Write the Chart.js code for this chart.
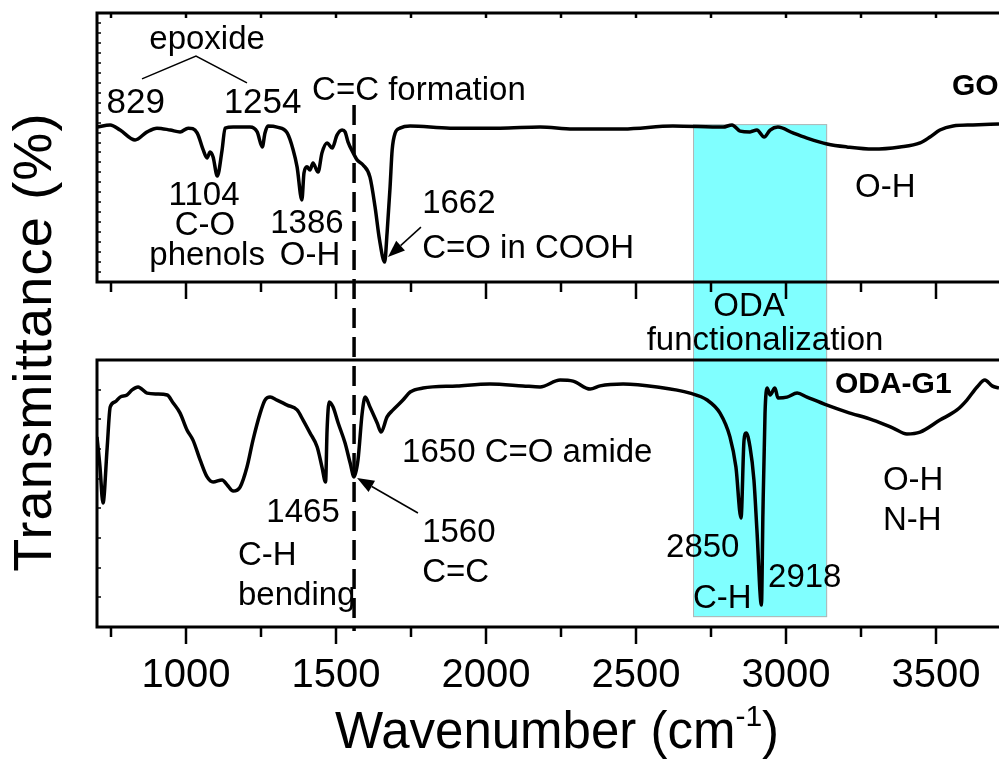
<!DOCTYPE html>
<html>
<head>
<meta charset="utf-8">
<script src="https://cdn.jsdelivr.net/npm/chart.js@4/dist/chart.umd.min.js"></script>
<style>
  html, body { margin: 0; padding: 0; background: #fff; overflow: hidden; }
  #wrap { position: relative; width: 999px; height: 761px; }
</style>
</head>
<body>
<div id="wrap"><canvas id="ftir"></canvas></div>
<script>
// FTIR spectra: graphene oxide (GO) and octadecylamine-functionalized graphene (ODA-G1)
const wavenumberGO = [703,747,780,830,870,903,947,980,1007,1037,1057,1070,1080,1090,1104,1120,1130,1157,1213,1237,1254,1263,1273,1303,1337,1357,1370,1386,1393,1403,1413,1423,1440,1453,1470,1487,1503,1520,1530,1540,1557,1570,1590,1613,1630,1645,1662,1670,1680,1687,1697,1713,1747,1880,2047,2180,2290,2457,2623,2790,2820,2847,2880,2903,2927,2947,2973,3023,3070,3137,3203,3290,3380,3447,3480,3513,3557,3623,3710];
const transmittanceGO = [57.6,58.4,56.5,52.8,55.8,57.2,56.5,55.8,57.2,55.4,49.1,46.1,48.3,46.5,39.4,49.1,57.2,57.6,57.6,55.8,50.2,55.4,58.0,57.6,55.4,49.1,42.8,30.5,40.5,42.8,41.6,44.2,40.9,48.0,51.7,49.8,54.6,56.5,55.8,52.0,48.0,45.4,43.5,39.0,27.9,15.6,7.4,18.2,35.3,49.1,55.4,57.2,58.0,57.2,57.2,57.6,56.9,56.9,58.0,57.6,58.4,56.1,55.8,56.5,53.9,56.5,57.6,55.4,53.5,51.3,50.2,49.4,50.2,51.7,53.9,56.5,58.0,58.4,58.7];

const wavenumberODA = [703,713,723,737,747,763,780,803,820,840,870,903,937,957,980,1003,1023,1047,1070,1090,1120,1137,1157,1180,1203,1223,1247,1263,1280,1303,1337,1370,1390,1413,1437,1453,1465,1470,1477,1490,1507,1530,1547,1560,1573,1587,1597,1613,1637,1650,1670,1690,1723,1747,1790,1903,2013,2123,2180,2247,2290,2347,2380,2457,2570,2680,2737,2780,2813,2833,2850,2860,2867,2880,2893,2903,2918,2923,2930,2937,2947,2963,2973,3003,3037,3070,3137,3203,3290,3357,3403,3447,3513,3570,3603,3637,3663,3687,3710];
const transmittanceODA = [71.2,59.9,46.4,67.4,82.4,84.3,86.1,86.9,88.8,89.9,87.6,87.3,86.9,83.9,80.1,73.8,70.0,62.5,56.2,54.3,55.1,53.2,50.9,52.4,59.9,70.0,80.1,85.0,86.1,85.0,83.1,81.3,77.5,72.7,67.4,59.9,54.3,73.8,84.3,82.4,76.4,68.9,61.4,56.2,62.5,80.1,86.1,82.4,76.4,73.0,78.7,81.3,85.0,88.0,89.5,90.3,91.0,90.3,89.9,92.5,92.1,89.1,90.3,91.0,89.9,87.6,85.0,80.1,71.2,59.9,40.8,70.0,72.7,67.4,55.1,36.3,8.2,42.7,80.1,89.5,86.9,89.5,85.8,86.1,87.6,86.1,83.1,80.5,77.5,74.5,72.3,73.0,77.5,81.3,85.0,89.9,92.5,90.3,89.5];

const majorTicks = [1000, 1500, 2000, 2500, 3000, 3500];
const minorTicks = [750, 1250, 1750, 2250, 2750, 3250];

// highlighted C-H stretching band and the C=C reference line
const odaBand = [2690, 3137];
const ccLine = 1560;

const FONT = '"Liberation Sans", Arial, Helvetica, sans-serif';

// peak annotations: [text, wavenumber, transmittance, panel, align, size, bold]
const notes = [
  ['epoxide', 1070, 86.6, 'yTop', 'center', 33, false],
  ['829', 832, 62.8, 'yTop', 'center', 35, false],
  ['1254', 1255, 62.8, 'yTop', 'center', 35, false],
  ['C=C formation', 1420, 67.7, 'yTop', 'left', 33, false],
  ['1104', 1060, 28.6, 'yTop', 'center', 33, false],
  ['C-O', 1063, 17.5, 'yTop', 'center', 33, false],
  ['phenols', 1070, 6.3, 'yTop', 'center', 33, false],
  ['1386', 1403, 18.2, 'yTop', 'center', 33, false],
  ['O-H', 1413, 6.3, 'yTop', 'center', 33, false],
  ['1662', 1787, 25.7, 'yTop', 'left', 33, false],
  ['C=O in COOH', 1787, 8.9, 'yTop', 'left', 33, false],
  ['O-H', 3230, 31.6, 'yTop', 'left', 33, false],
  ['GO', 3553, 69.5, 'yTop', 'left', 30, true],
  ['ODA', 2877, 116.5, 'yBot', 'center', 33, false],
  ['functionalization', 2930, 103.7, 'yBot', 'center', 33, false],
  ['ODA-G1', 3163, 87.6, 'yBot', 'left', 30, true],
  ['1650 C=O amide', 1720, 61.8, 'yBot', 'left', 33, false],
  ['1465', 1390, 39.3, 'yBot', 'center', 33, false],
  ['C-H', 1173, 23.2, 'yBot', 'left', 33, false],
  ['bending', 1173, 8.2, 'yBot', 'left', 33, false],
  ['1560', 1787, 31.8, 'yBot', 'left', 33, false],
  ['C=C', 1787, 16.9, 'yBot', 'left', 33, false],
  ['2850', 2600, 26.2, 'yBot', 'left', 33, false],
  ['C-H', 2690, 7.1, 'yBot', 'left', 33, false],
  ['2918', 2940, 15.0, 'yBot', 'left', 33, false],
  ['O-H', 3323, 51.3, 'yBot', 'left', 33, false],
  ['N-H', 3323, 36.3, 'yBot', 'left', 33, false]
];

// pointer arrows: [from wavenumber, from T, to wavenumber, to T, panel]
const arrows = [
  [1783, 20.4, 1673, 9.3, 'yTop'],
  [1773, 42.7, 1570, 55.8, 'yBot']
];
// bracket joining the two epoxide bands
const epoxideBracket = [[853, 75.5], [1033, 84.0], [1203, 74.0]];

const toPoints = (xs, ys) => xs.map((x, i) => ({ x: x, y: ys[i] }));

const panelPlugin = {
  id: 'panels',
  beforeDatasetsDraw(chart) {
    const { ctx, scales: { x, yTop, yBot } } = chart;
    const x0 = x.getPixelForValue(odaBand[0]);
    const x1 = x.getPixelForValue(odaBand[1]);
    const t = yTop.getPixelForValue(58.7);
    const b = yBot.getPixelForValue(3.7);
    ctx.save();
    ctx.fillStyle = '#80ffff';
    ctx.fillRect(x0, t, x1 - x0, b - t);
    ctx.strokeStyle = '#b4b4b4';
    ctx.lineWidth = 1;
    ctx.strokeRect(x0 + 0.5, t + 0.5, x1 - x0 - 1, b - t - 1);
    ctx.restore();
  },
  afterDatasetsDraw(chart) {
    const { ctx, chartArea, scales: { x, yTop, yBot } } = chart;
    const L = chartArea.left;
    const R = chartArea.right + 20;
    ctx.save();
    ctx.strokeStyle = '#000';
    ctx.fillStyle = '#000';

    // panel frames
    const panels = [
      [yTop.getPixelForValue(100), yTop.getPixelForValue(0), true],
      [yBot.getPixelForValue(100), yBot.getPixelForValue(0), false]
    ];
    ctx.lineWidth = 3;
    panels.forEach(([top, bottom, topTicks]) => {
      ctx.strokeRect(L, top, R - L, bottom - top);
      // x ticks below each panel
      ctx.lineWidth = 2.5;
      majorTicks.forEach(v => {
        const p = Math.round(x.getPixelForValue(v));
        ctx.beginPath(); ctx.moveTo(p, bottom); ctx.lineTo(p, bottom + 17); ctx.stroke();
      });
      minorTicks.forEach(v => {
        const p = Math.round(x.getPixelForValue(v));
        ctx.beginPath(); ctx.moveTo(p, bottom); ctx.lineTo(p, bottom + 10); ctx.stroke();
      });
      if (topTicks) {
        majorTicks.concat(minorTicks).forEach(v => {
          const p = Math.round(x.getPixelForValue(v));
          ctx.beginPath(); ctx.moveTo(p, top); ctx.lineTo(p, top + 5); ctx.stroke();
        });
      }
      // small inward ticks along the left edge
      ctx.lineWidth = 1.5;
      const n = topTicks ? 27 : 9;
      for (let i = 1; i < n; i++) {
        const py = Math.round(top + (bottom - top) * i / n);
        ctx.beginPath(); ctx.moveTo(L, py); ctx.lineTo(L + 4, py); ctx.stroke();
      }
      ctx.lineWidth = 3;
    });

    // dashed C=C marker through both panels
    const cx = x.getPixelForValue(ccLine);
    ctx.lineWidth = 3.5;
    ctx.setLineDash([20, 9]);
    ctx.beginPath();
    ctx.moveTo(cx, yTop.getPixelForValue(65.8));
    ctx.lineTo(cx, yBot.getPixelForValue(0) + 4);
    ctx.stroke();
    ctx.setLineDash([]);

    // epoxide bracket
    ctx.lineWidth = 1.5;
    ctx.beginPath();
    epoxideBracket.forEach(([w, v], i) => {
      const px = x.getPixelForValue(w), py = yTop.getPixelForValue(v);
      if (i === 0) ctx.moveTo(px, py); else ctx.lineTo(px, py);
    });
    ctx.stroke();

    // arrows
    arrows.forEach(([w0, v0, w1, v1, ax]) => {
      const s = chart.scales[ax];
      const ax0 = x.getPixelForValue(w0), ay0 = s.getPixelForValue(v0);
      const ax1 = x.getPixelForValue(w1), ay1 = s.getPixelForValue(v1);
      const ang = Math.atan2(ay1 - ay0, ax1 - ax0);
      const head = 17, half = 6.5;
      const bx = ax1 - head * Math.cos(ang), by = ay1 - head * Math.sin(ang);
      ctx.lineWidth = 1.5;
      ctx.beginPath(); ctx.moveTo(ax0, ay0); ctx.lineTo(bx, by); ctx.stroke();
      ctx.beginPath();
      ctx.moveTo(ax1, ay1);
      ctx.lineTo(bx + half * Math.sin(ang), by - half * Math.cos(ang));
      ctx.lineTo(bx - half * Math.sin(ang), by + half * Math.cos(ang));
      ctx.closePath(); ctx.fill();
    });

    // annotations
    ctx.textBaseline = 'alphabetic';
    notes.forEach(([text, w, v, ax, align, size, bold]) => {
      ctx.font = (bold ? 'bold ' : '') + size + 'px ' + FONT;
      ctx.textAlign = align;
      ctx.fillText(text, x.getPixelForValue(w), chart.scales[ax].getPixelForValue(v));
    });

    // axis titles
    ctx.textAlign = 'left';
    const title = 'Wavenumber (cm';
    ctx.font = '51px ' + FONT;
    const tw = ctx.measureText(title).width;
    ctx.font = '30px ' + FONT;
    const sw = ctx.measureText('-1').width;
    ctx.font = '51px ' + FONT;
    const pw = ctx.measureText(')').width;
    const total = tw + sw + pw;
    const tx = (chartArea.left + chartArea.right) / 2 + 9 - total / 2;
    const ty = chartArea.bottom + 121;
    ctx.fillText(title, tx, ty);
    ctx.font = '30px ' + FONT;
    ctx.fillText('-1', tx + tw, ty - 22);
    ctx.font = '51px ' + FONT;
    ctx.fillText(')', tx + tw + sw, ty);

    ctx.translate(chartArea.left - 46, chartArea.top + 329);
    ctx.rotate(-Math.PI / 2);
    ctx.textAlign = 'center';
    ctx.font = '54px ' + FONT;
    ctx.letterSpacing = '1.2px';
    ctx.fillText('Transmittance (%)', 0, 0);
    ctx.restore();
  }
};

new Chart(document.getElementById('ftir'), {
  type: 'line',
  data: {
    datasets: [
      {
        label: 'GO',
        data: toPoints(wavenumberGO, transmittanceGO),
        yAxisID: 'yTop',
        borderColor: '#000',
        borderWidth: 3.5,
        pointRadius: 0,
        cubicInterpolationMode: 'monotone',
        fill: false
      },
      {
        label: 'ODA-G1',
        data: toPoints(wavenumberODA, transmittanceODA),
        yAxisID: 'yBot',
        borderColor: '#000',
        borderWidth: 3.5,
        pointRadius: 0,
        cubicInterpolationMode: 'monotone',
        fill: false
      }
    ]
  },
  options: {
    responsive: true,
    maintainAspectRatio: false,
    devicePixelRatio: 1,
    animation: false,
    layout: { padding: { left: 97, right: 0, top: 13, bottom: 53 } },
    plugins: { legend: { display: false }, tooltip: { enabled: false } },
    scales: {
      x: {
        type: 'linear',
        position: 'bottom',
        min: 703,
        max: 3710,
        afterBuildTicks: s => { s.ticks = majorTicks.map(v => ({ value: v })); },
        grid: { display: false, drawTicks: true, tickLength: 17 },
        border: { display: false },
        ticks: {
          autoSkip: false,
          maxRotation: 0,
          padding: 8,
          color: '#000',
          font: { family: FONT, size: 40 },
          callback: v => String(v)
        }
      },
      yTop: { type: 'linear', display: false, min: -128.25, max: 100 },
      yBot: { type: 'linear', display: false, min: 0, max: 229.96 }
    }
  },
  plugins: [panelPlugin]
});
</script>
</body>
</html>
